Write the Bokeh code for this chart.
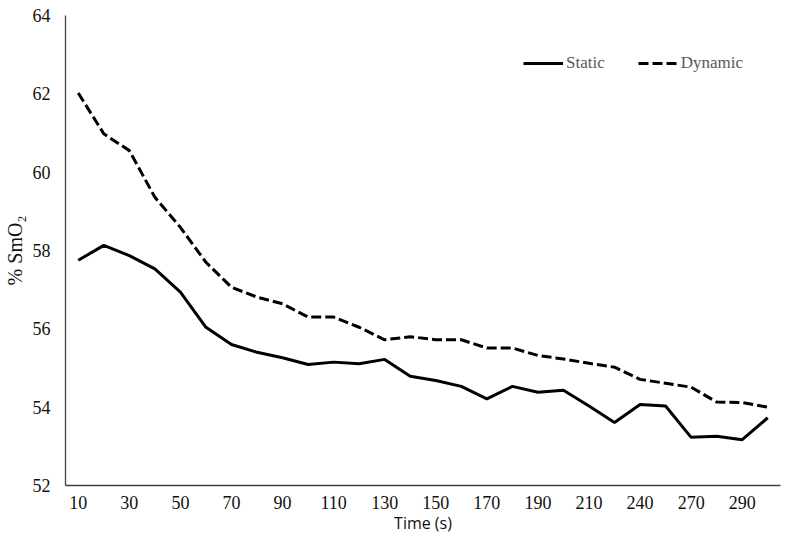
from bokeh.plotting import figure
from bokeh.models import FactorRange, Range1d, Legend, LegendItem, CustomJSTickFormatter
from bokeh.embed import file_html
from bokeh.resources import INLINE

times = ["10", "20", "30", "40", "50", "60", "70", "80", "90", "100", "110", "120", "130", "140",
         "150", "160", "170", "180", "190", "200", "210", "225", "240", "255", "270", "280", "290", "300"]
shown_labels = ["10", "30", "50", "70", "90", "110", "130", "150", "170", "190", "210", "240", "270", "290"]
static = [57.75, 58.13, 57.87, 57.53, 56.94, 56.04, 55.60, 55.40, 55.26, 55.09, 55.15, 55.11, 55.22, 54.79,
          54.68, 54.53, 54.21, 54.53, 54.38, 54.43, 54.03, 53.61, 54.07, 54.03, 53.23, 53.26, 53.17, 53.73]
dynamic = [62.02, 60.98, 60.55, 59.36, 58.59, 57.70, 57.06, 56.81, 56.64, 56.30, 56.30, 56.04, 55.72, 55.80,
           55.72, 55.72, 55.51, 55.51, 55.32, 55.23, 55.12, 55.02, 54.71, 54.61, 54.51, 54.13, 54.12, 54.00]
y_ticks = [52, 54, 56, 58, 60, 62, 64]

p = figure(width=782, height=536, x_range=FactorRange(*times, range_padding=0),
           y_range=Range1d(52, 64), output_backend="svg", toolbar_location=None,
           min_border_left=65, min_border_top=15, min_border_bottom=51, min_border_right=2)
p.outline_line_color = None
p.xgrid.visible = False
p.ygrid.visible = False

r1 = p.line(times, static, line_color="black", line_width=3)
r2 = p.line(times, dynamic, line_color="black", line_width=3, line_dash="10 4")

serif = "Liberation Serif"
for ax in (p.xaxis[0], p.yaxis[0]):
    ax.major_tick_line_color = None
    ax.minor_tick_line_color = None
    ax.axis_line_color = "#404040"
    ax.axis_line_width = 1.3
    ax.major_label_text_font = serif
    ax.major_label_text_font_size = "18px"
    ax.major_label_text_color = "#111111"
    ax.major_tick_out = 0
    ax.major_tick_in = 0

p.yaxis.ticker = y_ticks
p.yaxis.major_label_standoff = 15
p.yaxis.axis_label = "% SmO₂"
p.yaxis.axis_label_text_font = serif
p.yaxis.axis_label_text_font_size = "20px"
p.yaxis.axis_label_text_font_style = "normal"
p.yaxis.axis_label_text_color = "#111111"
p.yaxis.axis_label_standoff = 4

p.xaxis.formatter = CustomJSTickFormatter(args=dict(shown=shown_labels),
                                          code="return shown.includes(tick) ? tick : '';")
p.xaxis.major_label_standoff = 10
p.xaxis.axis_label = "Time (s)"
p.xaxis.axis_label_text_font = "Open Sans"
p.xaxis.axis_label_text_font_size = "16px"
p.xaxis.axis_label_text_font_style = "normal"
p.xaxis.axis_label_text_color = "#111111"
p.xaxis.axis_label_standoff = 0

legend = Legend(items=[LegendItem(label="Static", renderers=[r1]),
                       LegendItem(label="Dynamic", renderers=[r2])],
                orientation="horizontal", location=(458, 412))
legend.label_text_font = serif
legend.label_text_font_size = "17px"
legend.label_text_color = "#595959"
legend.glyph_width = 40
legend.label_standoff = 3
legend.spacing = 33
legend.padding = 0
legend.margin = 0
legend.border_line_color = None
legend.background_fill_alpha = 0
p.add_layout(legend, "center")

open("out.html", "w").write(file_html(p, INLINE))
